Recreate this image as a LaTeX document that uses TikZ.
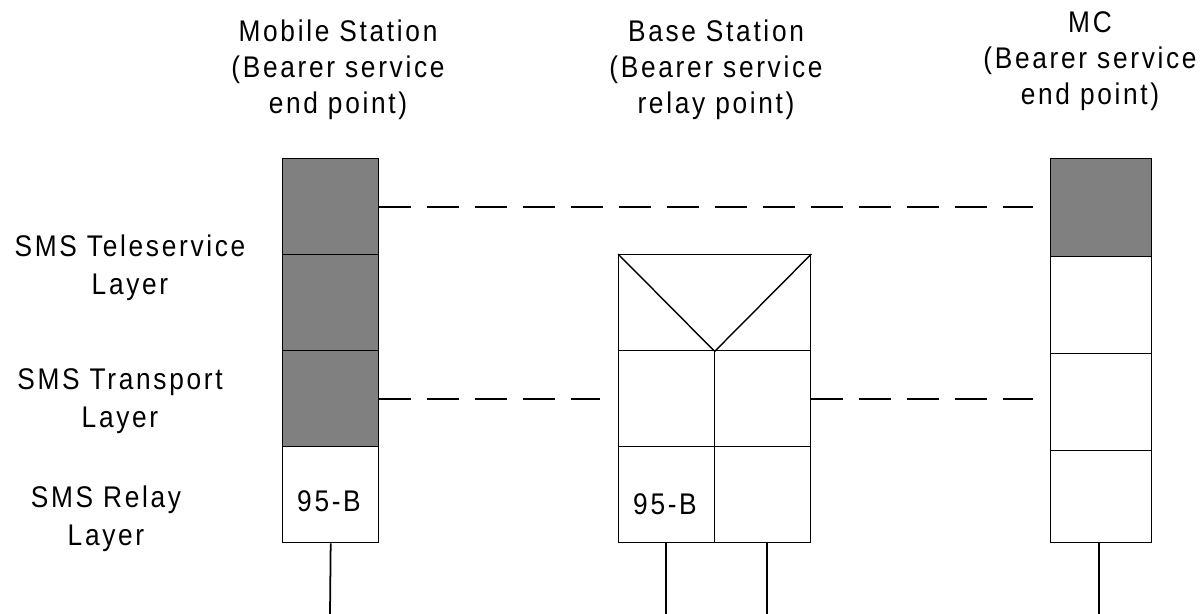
\documentclass[tikz,border=0pt]{standalone}
\usepackage{fontspec}
\setmainfont{Liberation Sans}[FakeStretch=0.88,LetterSpace=9]
\definecolor{layergray}{HTML}{808080}

\tikzset{
  cell/.style={draw, line width=0.8pt, anchor=north west, inner sep=0pt,
    minimum width=#1, minimum height=1.92cm},
  graycell/.style={cell=#1, fill=layergray},
  toplabel/.style={align=center, anchor=north, inner sep=0pt,
    font=\fontsize{17}{20.4}\selectfont},
  sidelabel/.style={align=center, anchor=north, inner sep=0pt,
    font=\fontsize{17}{21.6}\selectfont},
  celltext/.style={anchor=base, inner sep=0pt, font=\fontsize{17}{19}\selectfont},
  peer/.style={line width=1pt, dash pattern=on 0.64cm off 0.32cm},
  stub/.style={line width=1pt}
}

\begin{document}
\begin{tikzpicture}[x=0.02cm, y=-0.02cm]
  \useasboundingbox (0,0) rectangle (1203,614);

  % column headings
  \node[toplabel] (mslabel) at (338,20) {Mobile Station\\(Bearer service\\end point)};
  \node[toplabel] (bslabel) at (716,20) {Base Station\\(Bearer service\\relay point)};
  \node[toplabel] (mclabel) at (1090,11.6) {MC\\(Bearer service\\end point)};

  % layer names
  \node[sidelabel] (tslabel) at (130,235) {SMS Teleservice\\Layer};
  \node[sidelabel] (trlabel) at (120,368) {SMS Transport\\Layer};
  \node[sidelabel] (rllabel) at (106,486) {SMS Relay\\Layer};

  % mobile station stack
  \node[graycell=1.92cm] (ms1) at (282,158) {};
  \node[graycell=1.92cm] (ms2) at (282,254) {};
  \node[graycell=1.92cm] (ms3) at (282,350) {};
  \node[cell=1.92cm] (ms4) at (282,446) {};
  \node[celltext] (msrelay) at (329,511) {95-B};

  % base station stack
  \node[cell=3.84cm] (bs1) at (618,254) {};
  \node[cell=1.92cm] (bs2) at (618,350) {};
  \node[cell=1.92cm] (bs3) at (714,350) {};
  \node[cell=1.92cm] (bs4) at (618,446) {};
  \node[cell=1.92cm] (bs5) at (714,446) {};
  \node[celltext] (bsrelay) at (665,514) {95-B};
  \draw[line width=0.8pt] (bs1.north west) -- (bs1.south) -- (bs1.north east);

  % message center stack
  \node[graycell=2.02cm, minimum height=1.96cm] (mc1) at (1050,158) {};
  \node[cell=2.02cm, minimum height=1.94cm] (mc2) at (1050,256) {};
  \node[cell=2.02cm, minimum height=1.94cm] (mc3) at (1050,353) {};
  \node[cell=2.02cm, minimum height=1.84cm] (mc4) at (1050,450) {};

  % peer links
  \draw[peer, shorten >=0.34cm] (ms1.east) -- (ms1.east -| mc1.west);
  \draw[peer, shorten >=0.36cm] (ms3.east) -- (bs2.west);
  \draw[peer, shorten >=0.34cm] (bs3.east) -- (bs3.east -| mc3.west);

  % links down
  \coordinate (msend) at (330,614);
  \coordinate (bsendl) at (666,614);
  \coordinate (bsendr) at (767,614);
  \coordinate (mcend) at (1099,614);
  \draw[stub] (ms4.south) -- (msend);
  \draw[stub] (bsendl |- bs4.south) -- (bsendl);
  \draw[stub] (bsendr |- bs5.south) -- (bsendr);
  \draw[stub] (mcend |- mc4.south) -- (mcend);
\end{tikzpicture}
\end{document}
